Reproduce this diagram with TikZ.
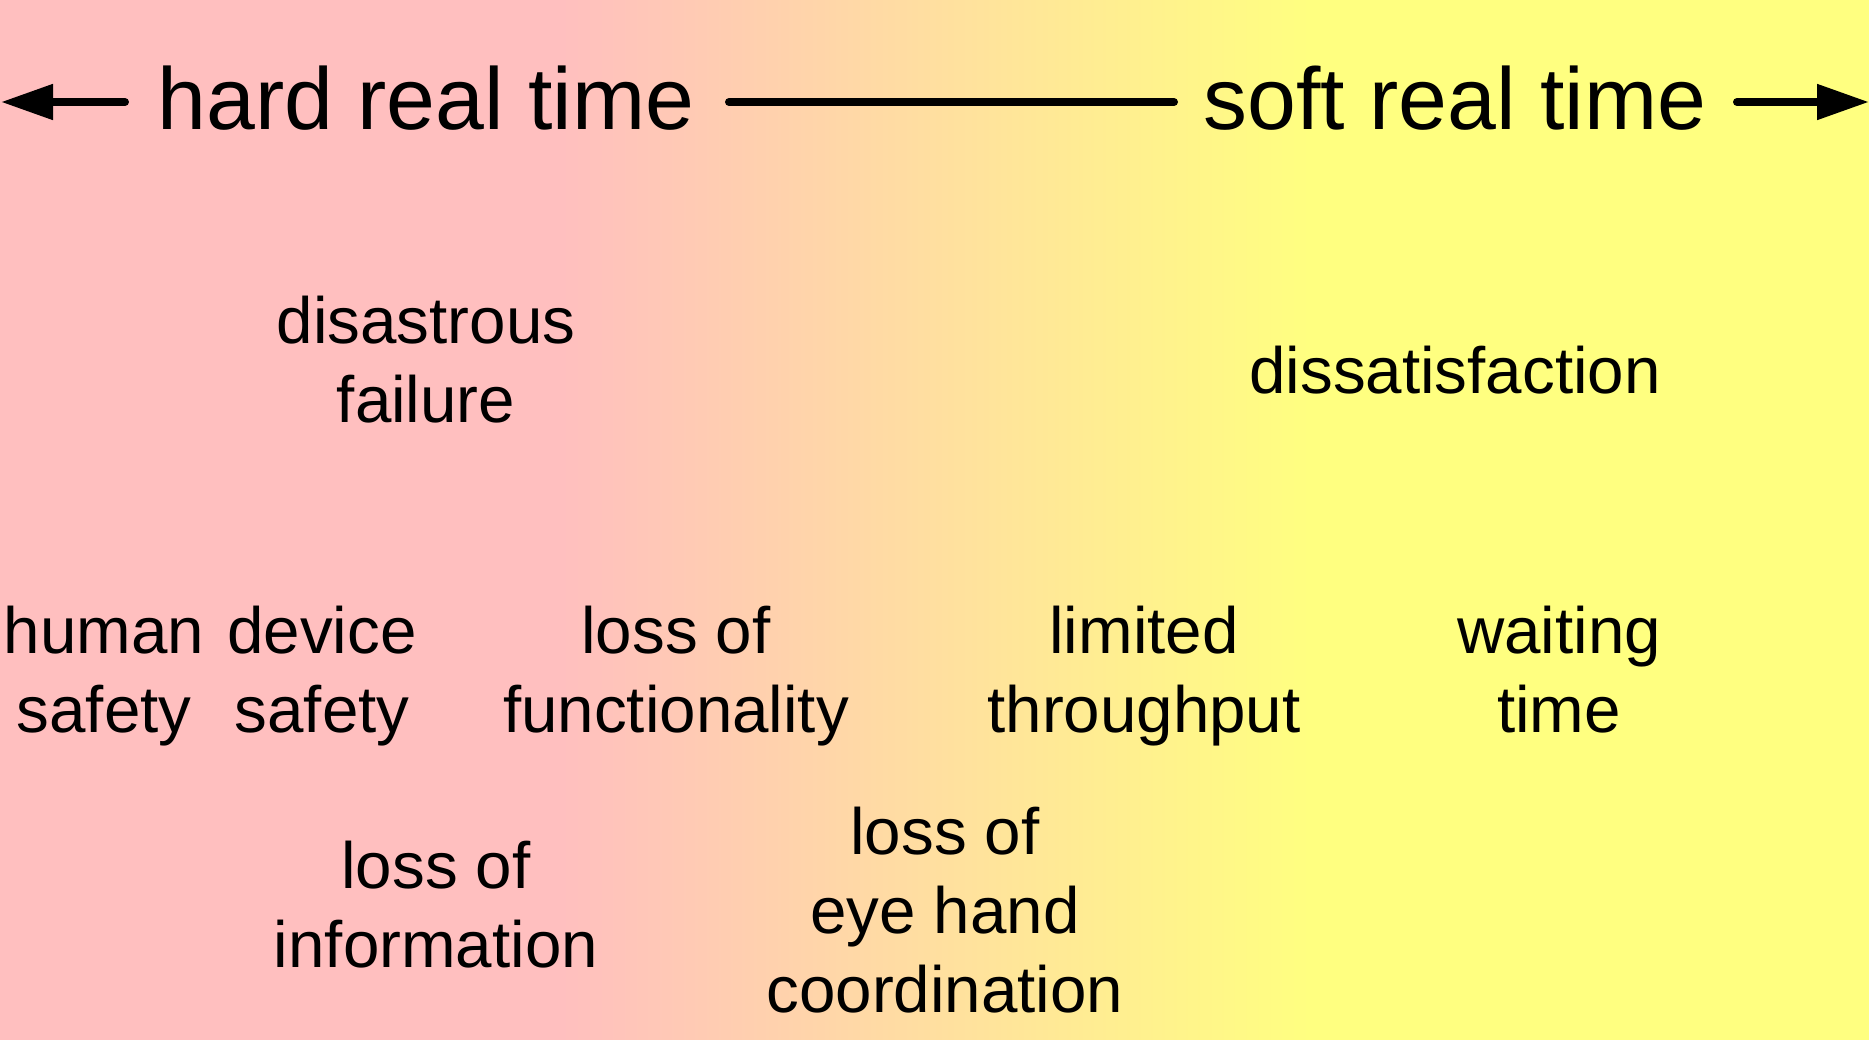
\documentclass[tikz,border=0pt]{standalone}
\usepackage{fontspec}
\setmainfont{Liberation Sans}
\usetikzlibrary{arrows.meta}
\definecolor{hardpink}{HTML}{FFBFBF}
\definecolor{softyellow}{HTML}{FFFF80}
\tikzset{
  lbl/.style={anchor=base, align=center, inner sep=0pt, font=\fontsize{65.5}{79}\selectfont},
  ttl/.style={anchor=base, inner sep=0pt, font=\fontsize{87.8}{100}\selectfont},
  axis/.style={line width=8pt, line cap=round},
  axarrow/.style={axis, -{Triangle[length=52pt, width=34pt]}}
}
\begin{document}
\begin{tikzpicture}[x=1pt,y=-1pt]
\useasboundingbox (0,0) rectangle (1869,1039);
\fill[hardpink] (-5,-5) rectangle (561,1045);
\shade[left color=hardpink, right color=softyellow] (560,-5) rectangle (1311,1045);
\fill[softyellow] (1310,-5) rectangle (1875,1045);
% axis
\coordinate (lt) at (125,102);
\coordinate (ltip) at (1,102);
\coordinate (rt) at (1737,102);
\coordinate (rtip) at (1869,102);
\coordinate (ms) at (729,102);
\coordinate (me) at (1174,102);
\draw[axarrow] (lt) -- (ltip);
\draw[axarrow] (rt) -- (rtip);
\draw[axis] (ms) -- (me);
\node[ttl] (hard) at (426,129) {hard real time};
\node[ttl] (soft) at (1455,129) {soft real time};
% labels (anchor = baseline of last line)
\node[lbl] (disaster) at (426,422) {disastrous\\failure};
\node[lbl] (dissat) at (1455,393) {dissatisfaction};
\node[lbl] (human) at (104,732) {human\\safety};
\node[lbl] (device) at (322,732) {device\\safety};
\node[lbl] (func) at (676,732) {loss of\\functionality};
\node[lbl] (thru) at (1144,732) {limited\\throughput};
\node[lbl] (wait) at (1559,732) {waiting\\time};
\node[lbl] (info) at (436,967) {loss of\\information};
\node[lbl] (eye) at (945,1012) {loss of\\eye hand\\coordination};
\end{tikzpicture}
\end{document}
